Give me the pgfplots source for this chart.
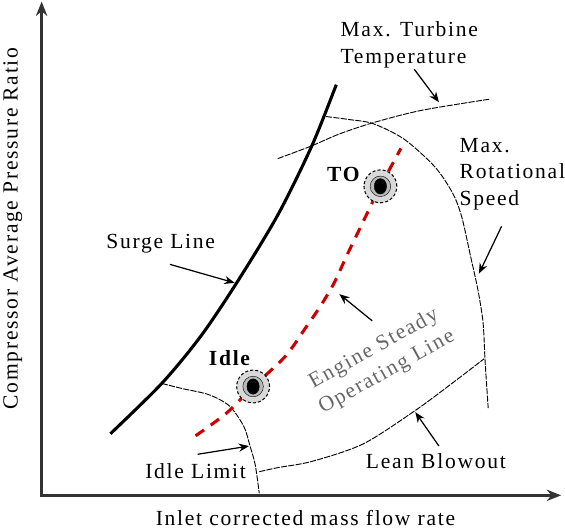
\documentclass[border=0pt]{standalone}
\usepackage{fontspec}
\setmainfont{Liberation Serif}[LetterSpace=8]
\usepackage{pgfplots}
\pgfplotsset{compat=1.18}
\usetikzlibrary{arrows.meta}
\newcommand\lf{\fontsize{21}{26}\selectfont}
\begin{document}
\begin{tikzpicture}
\begin{axis}[
  scale only axis, width=565pt, height=524pt,
  xmin=0, xmax=565, ymin=0, ymax=524, y dir=reverse,
  hide axis, clip=false,
]
% axes
\addplot[black!80, line width=3pt, -{Stealth[length=14pt,width=11pt]}] coordinates {(50,490) (50,9)};
\addplot[black!80, line width=3pt, -{Stealth[length=14pt,width=11pt]}] coordinates {(48.5,490) (556,490)};
% surge line
\addplot[black, line width=3pt, smooth, tension=0.5] coordinates {(117,430) (167,381) (205,335) (240,283) (280,217) (313,150) (337,90)};
% max turbine temperature
\addplot[black, line width=0.9pt, smooth, dash pattern=on 6pt off 1.2pt] coordinates {(280,162) (312,150) (340,138) (373,127) (420,115) (487,104)};
% max rotational speed
\addplot[black, line width=0.9pt, smooth, dash pattern=on 6pt off 1.2pt] coordinates {(327,121) (350,124) (373,128) (403,143) (433,170) (450,195) (459,218) (468,258) (475,290) (480,322) (482,360) (485,405)};
% lean blowout
\addplot[black, line width=0.9pt, smooth, dash pattern=on 6pt off 1.2pt] coordinates {(262,467) (280,463) (313,457) (363,440) (413,408) (447,383) (481,357)};
% idle limit
\addplot[black, line width=0.9pt, smooth, dash pattern=on 6pt off 1.2pt] coordinates {(167,381) (187,386) (213,392) (233,403) (247,423) (253,442) (258,460) (262,488)};
% operating line
\addplot[red!80!black, line width=3pt, smooth, dash pattern=on 10pt off 8pt] coordinates {(200,432) (230,410) (255,385) (287,355) (307,327) (322,305) (335,283) (347,257) (360,230) (373,203) (380,189) (400,152)};
% markers
\addplot[only marks, mark=*, mark size=16pt, mark options={fill=gray!30, draw=black, line width=1pt, dash pattern=on 3pt off 2pt}] coordinates {(380,189) (256,384)};
\addplot[only marks, mark=*, mark size=10pt, mark options={fill=gray!55, draw=none}] coordinates {(380,189) (256,384)};
\addplot[only marks, mark=*, mark size=6pt, mark options={fill=black, draw=none, yscale=1.25}] coordinates {(380,189) (256,384)};
% arrows
\addplot[black, line width=1.2pt, -{Stealth[length=10pt,width=8pt]}] coordinates {(175,265) (238,283)};
\addplot[black, line width=1.2pt, -{Stealth[length=10pt,width=8pt]}] coordinates {(413,75) (437,107)};
\addplot[black, line width=1.2pt, -{Stealth[length=10pt,width=8pt]}] coordinates {(498,228) (476,274)};
\addplot[black, line width=1.2pt, -{Stealth[length=10pt,width=8pt]}] coordinates {(372,320) (340,294)};
\addplot[black, line width=1.2pt, -{Stealth[length=10pt,width=8pt]}] coordinates {(437,442) (414,409)};
\addplot[black, line width=1.2pt, -{Stealth[length=10pt,width=8pt]}] coordinates {(202,450) (252,442)};
% labels
\node[font=\lf, rotate=90] at (axis cs:22,230) {Compressor Average Pressure Ratio};
\node[font=\lf] at (axis cs:307,512) {Inlet corrected mass flow rate};
\node[font=\lf, align=left, anchor=west, inner sep=0pt] at (axis cs:341,51) {Max. Turbine\\Temperature};
\node[font=\lf, align=left, anchor=west, inner sep=0pt] at (axis cs:457,177) {Max.\\Rotational\\Speed};
\node[font=\lf] at (axis cs:166,245) {Surge Line};
\node[font=\lf\bfseries] at (axis cs:344,177) {TO};
\node[font=\lf\bfseries] at (axis cs:233,356) {Idle};
\node[font=\lf] at (axis cs:200,466) {Idle Limit};
\node[font=\lf] at (axis cs:434,457) {Lean Blowout};
\node[font=\lf, text=black!60, rotate=29, align=center, inner sep=0pt] at (axis cs:380,359) {Engine Steady\\Operating Line};
\end{axis}
\end{tikzpicture}
\end{document}
